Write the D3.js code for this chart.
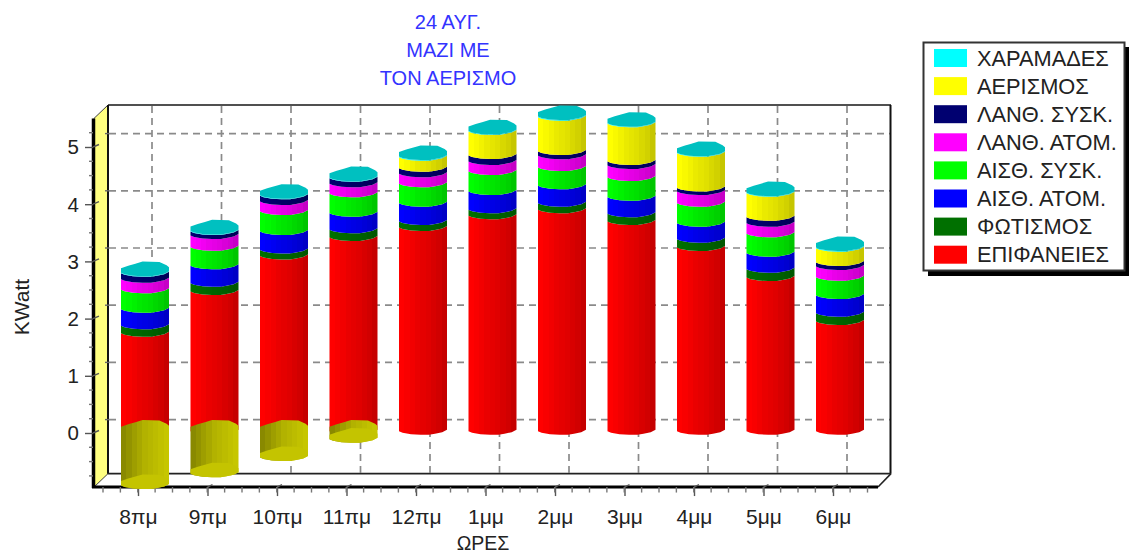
<!DOCTYPE html>
<html><head><meta charset="utf-8">
<style>html,body{margin:0;padding:0;background:#fff}svg{display:block}text{font-family:"Liberation Sans",Arial,sans-serif}</style>
<script src="https://cdn.jsdelivr.net/npm/d3@7/dist/d3.min.js"></script>
</head><body><script>
const hours=["8πμ","9πμ","10πμ","11πμ","12πμ","1μμ","2μμ","3μμ","4μμ","5μμ","6μμ"];
const surfaces=[1.713,2.442,3.065,3.385,3.561,3.765,3.871,3.665,3.212,2.685,1.918];
const lighting=[.129,.145,.105,.135,.105,.105,.115,.135,.145,.145,.145];
const sensiblePeople=[.29,.304,.32,.29,.32,.32,.304,.29,.28,.28,.31];
const sensibleDevices=[.339,.325,.35,.34,.34,.35,.32,.344,.35,.34,.32];
const latentPeople=[.185,.205,.175,.175,.175,.175,.205,.21,.205,.185,.187];
const latentDevices=[.105,.07,.1,.098,.098,.105,.075,.07,.058,.105,.07];
const ventilation=[-.95,-.745,-.46,-.14,.192,.42,.6,.66,.61,.42,.25];
const cracks=[.01,.01,.01,.01,.01,.01,.01,.01,.01,.01,.01];
const seriesNames=["ΕΠΙΦΑΝΕΙΕΣ","ΦΩΤΙΣΜΟΣ","ΑΙΣΘ. ΑΤΟΜ.","ΑΙΣΘ. ΣΥΣΚ.","ΛΑΝΘ. ΑΤΟΜ.","ΛΑΝΘ. ΣΥΣΚ.","ΑΕΡΙΣΜΟΣ","ΧΑΡΑΜΑΔΕΣ"];
const seriesColors=["#ff0000","#007000","#0000ff","#00ff00","#ff00ff","#000070","#ffff00","#00ffff"];
const seriesValues=[surfaces,lighting,sensiblePeople,sensibleDevices,latentPeople,latentDevices,ventilation,cracks];
const titleLines=["24 ΑΥΓ.","ΜΑΖΙ ΜΕ","ΤΟΝ ΑΕΡΙΣΜΟ"];
const yTicks=[0,1,2,3,4,5];
const yMinorTicks=d3.range(-0.75,5.5,0.25).filter(v=>!Number.isInteger(v));

const W=1130,H=554;
const svg=d3.select("body").append("svg").attr("width",W).attr("height",H);
const defs=svg.append("defs");

const K=57.2, DX=14, DY=13.4, HALF=24;
const yFront=d3.scaleLinear().domain([0,5]).range([433,433-5*K]);
const yBack=v=>yFront(v)-DY;
const yBar=v=>yFront(v)-4.3;
const xFront=d3.scalePoint().domain(hours).range([138,833]);
const step=xFront.step();
const vMin=-0.945, vMax=5.5;

// shading
const shade=[1,.98,.95,.92,.9,.88,.85,.82,.78];
function addGrad(id,col,factors){
  const c=d3.rgb(col), g=defs.append("linearGradient").attr("id",id).attr("x1",0).attr("x2",1).attr("y1",0).attr("y2",0);
  factors.forEach((f,i)=>{
    const s=`rgb(${c.r*f|0},${c.g*f|0},${c.b*f|0})`;
    g.append("stop").attr("offset",i/factors.length).attr("stop-color",s);
    g.append("stop").attr("offset",(i+1)/factors.length).attr("stop-color",s);
  });
}
seriesColors.forEach((c,i)=>addGrad("g"+i,c,shade));
addGrad("neg","#ffff00",[.54,.58,.62,.66,.7,.72,.74,.76,.78]);

// walls
const axG=svg.append("g");
axG.append("polygon").attr("fill","#ffff80").attr("stroke","#404040").attr("stroke-width",1)
  .attr("points",[[94,yFront(vMax)],[94+DX,yBack(vMax)],[94+DX,yBack(vMin)],[94,yFront(vMin)]].join(" "));

// grid
const grid=svg.append("g").attr("stroke","#8a8a8a").attr("stroke-width",1.7).attr("stroke-dasharray","7 5").attr("fill","none");
grid.selectAll("line.h").data(yTicks).join("line").attr("x1",109).attr("x2",890).attr("y1",yBack).attr("y2",yBack);
grid.selectAll("line.v").data(hours).join("line").attr("x1",d=>xFront(d)+DX).attr("x2",d=>xFront(d)+DX).attr("y1",yBack(vMax)+1).attr("y2",yBack(vMin)-1);

// frame
const frame=svg.append("g").attr("fill","none");
frame.append("line").attr("x1",108).attr("x2",891).attr("y1",yBack(vMax)).attr("y2",yBack(vMax)).attr("stroke","#505050").attr("stroke-width",2);
frame.append("line").attr("x1",108).attr("x2",108).attr("y1",yBack(vMax)).attr("y2",yBack(vMin)).attr("stroke","#111").attr("stroke-width",2);
frame.append("line").attr("x1",890.5).attr("x2",890.5).attr("y1",yBack(vMax)).attr("y2",yBack(vMin)).attr("stroke","#111").attr("stroke-width",2);
frame.append("line").attr("x1",108).attr("x2",891).attr("y1",yBack(vMin)).attr("y2",yBack(vMin)).attr("stroke","#222").attr("stroke-width",1.6);
frame.append("line").attr("x1",878).attr("x2",891).attr("y1",yFront(vMin)).attr("y2",yBack(vMin)).attr("stroke","#222").attr("stroke-width",1.6);
frame.append("line").attr("x1",92).attr("x2",878).attr("y1",yFront(vMin)).attr("y2",yFront(vMin)).attr("stroke","#000").attr("stroke-width",3);
frame.append("line").attr("x1",93.5).attr("x2",93.5).attr("y1",yFront(vMax)).attr("y2",yFront(vMin)+1).attr("stroke","#000").attr("stroke-width",3.5);

// axes
const yAxis=d3.axisLeft(yFront).tickValues(yTicks).tickSize(8).tickPadding(6).tickFormat(d3.format("d"));
const yG=svg.append("g").attr("transform","translate(93,0)").call(yAxis);
yG.select(".domain").remove();
yG.selectAll("text").attr("font-size",20.5).attr("fill","#222").attr("dy","0.34em").style("font-family",'"Liberation Sans",Arial,sans-serif');
yG.selectAll("line").attr("stroke","#555").attr("stroke-width",1.4);
svg.append("g").attr("stroke","#555").attr("stroke-width",1.4).selectAll("line").data(yTicks).join("line")
  .attr("x1",93).attr("x2",99).attr("y1",yFront).attr("y2",d=>yFront(d)-2.5);
svg.append("g").attr("stroke","#777").attr("stroke-width",1.4).selectAll("line").data(yMinorTicks).join("line")
  .attr("x1",89).attr("x2",93).attr("y1",yFront).attr("y2",yFront);
svg.append("g").attr("stroke","#666").attr("stroke-width",1.4).selectAll("line").data(yTicks).join("line")
  .attr("x1",105).attr("x2",109).attr("y1",yBack).attr("y2",yBack);

const xAxis=d3.axisBottom(xFront).tickSize(9).tickPadding(9);
const xG=svg.append("g").attr("transform",`translate(0,${yFront(vMin)})`).call(xAxis);
xG.select(".domain").remove();
xG.selectAll("text").attr("font-size",21).attr("fill","#222").attr("y",36.5).attr("dy",0).style("font-family",'"Liberation Sans",Arial,sans-serif');
xG.selectAll("line").attr("stroke","#555").attr("stroke-width",1.4);
const xMinor=d3.range(0,45).map(i=>103+i*step/4).filter(x=>x<870);
svg.append("g").attr("stroke","#777").attr("stroke-width",1.4).selectAll("line").data(xMinor).join("line")
  .attr("x1",d=>d).attr("x2",d=>d).attr("y1",yFront(vMin)).attr("y2",yFront(vMin)+5.5);
svg.append("g").attr("stroke","#555").attr("stroke-width",1.4).selectAll("line").data(hours).join("line")
  .attr("x1",d=>xFront(d)).attr("x2",d=>xFront(d)+5).attr("y1",yFront(vMin)).attr("y2",yFront(vMin)-2.5);

// cylinders
const lower=[[-1,2.5],[-.85,4],[-.5,5.5],[-.1,6],[.25,6],[.5,5],[.8,3.5],[1,1]];
const upper=[[1,-3],[.9,-5],[.6,-8.3],[-.1,-8.6],[-.4,-6.5],[-.7,-4.5],[-1,-2]];
const pts=(prof,cx,yc)=>prof.map(([t,d])=>[cx+t*HALF,yc+d]);
const poly=p=>"M"+p.map(q=>q.join(",")).join("L")+"Z";
const bars=svg.append("g");
hours.forEach((h,i)=>{
  const cx=xFront(h)+7;
  let base=0;
  seriesValues.forEach((vals,s)=>{
    const v=vals[i];
    if(v<=0) return;
    const top=base+v;
    const a=pts(lower,cx,yBar(base)), b=pts(lower,cx,yBar(top)).reverse();
    bars.append("path").attr("d",poly(a.concat(b))).attr("fill",`url(#g${s})`);
    base=top;
  });
  // top cap
  bars.append("path").attr("d",poly(pts(lower,cx,yBar(base)).concat(pts(upper,cx,yBar(base))))).attr("fill","#00c0c0");
  // negative part
  const n=ventilation[i];
  if(n<0){
    const a=pts(lower,cx,yBar(n)), b=pts(upper,cx,yBar(0));
    bars.append("path").attr("d",poly(a.concat(b))).attr("fill","url(#neg)");
    bars.append("path").attr("d",poly(pts(lower,cx,yBar(n)).concat(pts(upper,cx,yBar(n))))).attr("fill","#c4c400");
  }
});

// title
svg.append("g").selectAll("text").data(titleLines).join("text")
  .attr("x",448).attr("y",(d,i)=>28.5+i*28).attr("text-anchor","middle").attr("font-size",20).attr("fill","#3333ff").text(d=>d);

// axis titles
svg.append("text").attr("x",483).attr("y",550).attr("text-anchor","middle").attr("font-size",19.5).attr("fill","#222").text("ΩΡΕΣ");
svg.append("text").attr("transform","translate(29,307) rotate(-90)").attr("text-anchor","middle").attr("font-size",21).attr("fill","#222").text("KWatt");

// legend
const lg=svg.append("g");
lg.append("rect").attr("x",928).attr("y",47).attr("width",201).attr("height",229).attr("fill","#000");
lg.append("rect").attr("x",923.5).attr("y",42.5).attr("width",201).attr("height",228).attr("fill","#fff").attr("stroke","#333").attr("stroke-width",2);
const items=seriesNames.map((n,i)=>({n,c:seriesColors[i]})).reverse();
const row=lg.selectAll("g.row").data(items).join("g").attr("transform",(d,i)=>`translate(0,${58+i*28.1})`);
row.append("rect").attr("x",934).attr("y",-9).attr("width",33).attr("height",18).attr("fill",d=>d.c);
row.append("text").attr("x",977).attr("y",7.5).attr("font-size",21.8).attr("fill","#222").text(d=>d.n);
</script></body></html>
